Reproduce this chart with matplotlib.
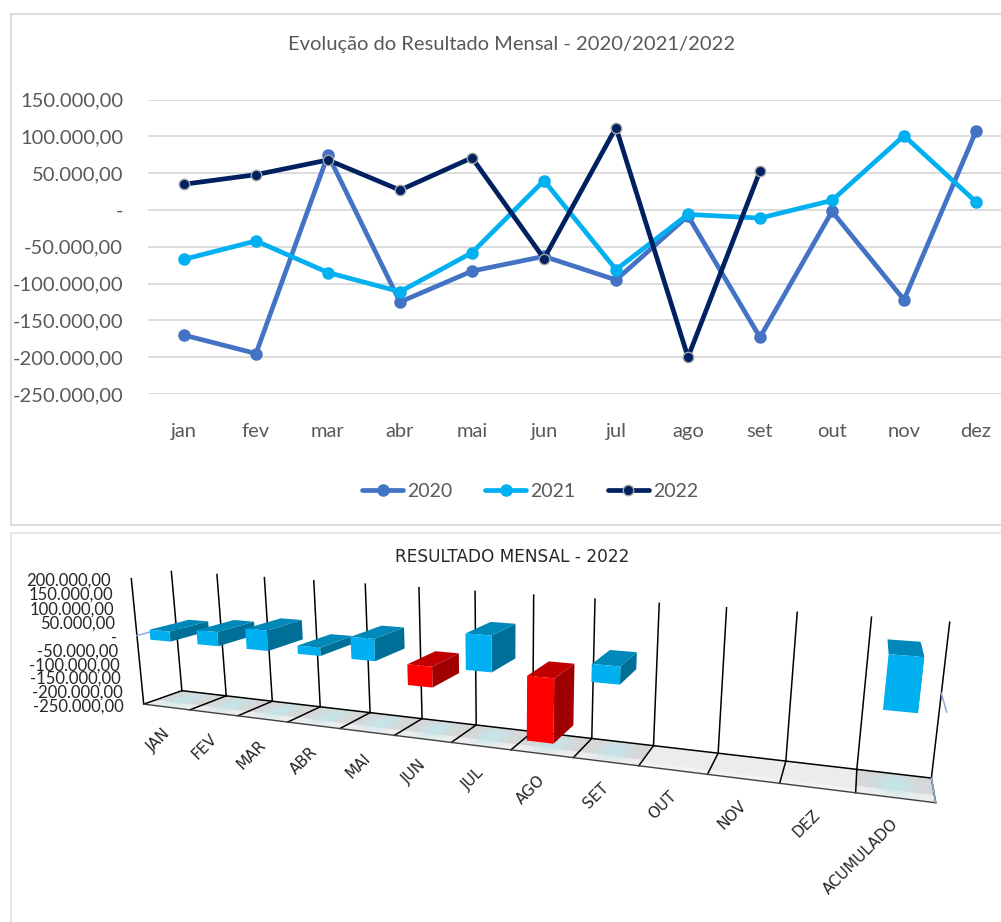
"""
Monthly result charts: 2020/2021/2022 lines and the 2022 perspective columns.
"""
import matplotlib
matplotlib.use('Agg')
import matplotlib.pyplot as plt
from matplotlib.collections import PolyCollection
from matplotlib.patches import Rectangle
import numpy as np

plt.rcParams['font.family'] = ['Lato', 'DejaVu Sans']

W, H = 1001, 922

# Data
months = ['jan', 'fev', 'mar', 'abr', 'mai', 'jun', 'jul', 'ago', 'set', 'out', 'nov', 'dez']
result_2020 = [-170000, -195000, 75000, -125000, -83000, -63000, -95000, -8000, -173000, -2000, -122000, 107000]
result_2021 = [-67000, -42000, -85000, -111000, -58000, 40000, -81000, -6000, -11000, 13000, 101000, 11000]
result_2022 = [35000, 48000, 68000, 27000, 71000, -66000, 112000, -200000, 53000]
accumulated_2022 = 148000

bar_labels = ['JAN', 'FEV', 'MAR', 'ABR', 'MAI', 'JUN', 'JUL', 'AGO', 'SET', 'OUT', 'NOV', 'DEZ', 'ACUMULADO']
top_ticks = [150000, 100000, 50000, 0, -50000, -100000, -150000, -200000, -250000]
bar_ticks = [200000, 150000, 100000, 50000, 0, -50000, -100000, -150000, -200000, -250000]


def money(v):
    if v == 0:
        return '-'
    return f'{v:,.2f}'.replace(',', '#').replace('.', ',').replace('#', '.')


fig = plt.figure(figsize=(W / 100, H / 100), dpi=100, facecolor='white')

# Full figure axes in pixels, for panel borders and the perspective chart
canvas = fig.add_axes([0, 0, 1, 1])
canvas.set_xlim(0, W)
canvas.set_ylim(H, 0)
canvas.axis('off')
canvas.add_patch(Rectangle((11, 14), 1010, 511, fc='white', ec='#d9d9d9', lw=1.3))
canvas.add_patch(Rectangle((11, 533), 1010, 420, fc='white', ec='#e4e4e4', lw=1.3))

# === LINE CHART ===
y_top, y_bottom = 99.6, 394.0
x_left = 148
ax = fig.add_axes([x_left / W, 1 - y_bottom / H, 864 / W, (y_bottom - y_top) / H])
ax.patch.set_alpha(0)
x = np.arange(12)
ax.plot(x, result_2020, color='#4472C4', lw=3.4, marker='o', ms=8, label='2020', solid_capstyle='round')
ax.plot(x, result_2021, color='#00B0F0', lw=3.4, marker='o', ms=8, label='2021', solid_capstyle='round')
ax.plot(x[:9], result_2022, color='#002060', lw=3.4, marker='o', ms=7.5, mec='#a5a5a5', mew=1,
        label='2022', solid_capstyle='round')
ax.set_xlim(-0.5, 11.5)
ax.set_ylim(-250000, 150000)
ax.set_yticks(top_ticks)
ax.set_yticklabels([money(v) for v in top_ticks])
ax.set_xticks(x)
ax.set_xticklabels(months)
ax.grid(axis='y', color='#d9d9d9', lw=1.3)
ax.set_axisbelow(True)
ax.tick_params(axis='both', length=0, labelcolor='#595959', labelsize=14.5)
ax.tick_params(axis='y', pad=18)
ax.tick_params(axis='x', pad=21)
for s in ax.spines.values():
    s.set_visible(False)
fig.text(512 / W, 1 - 44.5 / H, 'Evolução do Resultado Mensal - 2020/2021/2022', ha='center', va='center',
         fontsize=14.5, color='#595959')
fig.legend(*ax.get_legend_handles_labels(), loc='center', bbox_to_anchor=(530 / W, 1 - 491.5 / H), ncol=3,
           frameon=False, fontsize=14, labelcolor='#595959', handlelength=2.15, handletextpad=0.2,
           columnspacing=1.65)

# === PERSPECTIVE COLUMNS ===
v_min, v_max = bar_ticks[-1], bar_ticks[0]


def level(value):
    return (value - v_min) / (v_max - v_min)


# frame calibration: (category, height 0-1, depth 0-1) -> pixel
frame_3d = [(0, 0, 0), (7, 0, 0), (13, 0, 0), (0, 0, 1), (7, 0, 1), (13, 0, 1), (0, 1, 1), (7, 1, 1), (13, 1, 1), (0, 1, 0)]
frame_px = [(143.3, 704.3), (512.7, 749.3), (935, 802.3), (182.7, 689.3), (530, 735), (932.7, 776.7),
            (171.7, 571), (534.3, 595), (949.3, 622.3), (130.7, 579.3)]
rows = []
for (a, b, c), (px, py) in zip(frame_3d, frame_px):
    rows.append([a, b, c, 1, 0, 0, 0, 0, -px * a, -px * b, -px * c, -px])
    rows.append([0, 0, 0, 0, a, b, c, 1, -py * a, -py * b, -py * c, -py])
P = np.linalg.svd(np.array(rows, dtype=float))[2][-1].reshape(3, 4)


def project(u, v, w):
    q = P @ np.array([u, v, w, 1.0])
    return q[0] / q[2], q[1] / q[2]


# floor, with a pale reflection under the cells that hold a column
values = result_2022 + [None, None, None, accumulated_2022]
floor_polys, floor_cols = [], []
for i, val in enumerate(values):
    for a in np.linspace(0, 0.95, 20):
        for b in np.linspace(0, 0.9, 10):
            floor_polys.append([project(i + a, 0, b), project(i + a + 0.05, 0, b),
                                project(i + a + 0.05, 0, b + 0.1), project(i + a, 0, b + 0.1)])
            c = np.array([0.925, 0.925, 0.925])
            if b < 0.2:
                c = np.array([0.95, 0.95, 0.95])
            if val is not None:
                t = np.exp(-((a + 0.025 - 0.5) / 0.24) ** 2) * np.exp(-((b + 0.05 - 0.55) / 0.4) ** 2)
                edge = 0.84 if b > 0.2 else 0.93
                c = np.full(3, edge) * (1 - t) + np.array([0.76, 0.90, 0.92]) * t
            floor_cols.append(c)
canvas.add_collection(PolyCollection(floor_polys, facecolors=floor_cols, edgecolors='face', linewidths=0.3, zorder=2))

# back wall uprights and floor lines
for i in range(14):
    bx, by = zip(project(i, 0, 1), project(i, 1, 1))
    canvas.plot(bx, by, color='black', lw=1.1, zorder=3)
    fx, fy = zip(project(i, 0, 0), project(i, 0, 1))
    canvas.plot(fx, fy, color='black', lw=1.1, zorder=3)
ex, ey = zip(project(0, 0, 0), project(0, 1, 0))
canvas.plot(ex, ey, color='black', lw=1.1, zorder=3)
ex, ey = zip(project(0, 0, 1), project(13, 0, 1))
canvas.plot(ex, ey, color='black', lw=1.1, zorder=3)
ex, ey = zip(project(0, 0, 0), project(13, 0, 0))
canvas.plot(ex, ey, color='#404040', lw=1.0, zorder=3)

# thin blue edges
zero = level(0)
for a, b in [((0, zero, 0), (0, zero, 0.35)), ((13, zero, 1), (13, zero, 0)), ((13, 0, 1), (13, 0, 0))]:
    ex, ey = zip(project(*a), project(*b))
    canvas.plot(ex, ey, color='#8faadc', lw=1.1, zorder=3)

# columns, left to right so the later ones cover the earlier ones
bar_half = 0.21
w0, w1 = -0.2, 0.8
for i, val in enumerate(values):
    if val is None:
        continue
    centre = 0.68 + 0.98 * i
    u0, u1 = centre - bar_half, centre + bar_half
    lo, hi = sorted((level(0), level(val)))
    if val >= 0:
        front, top, side = '#00B0F0', '#0088B8', '#006F97'
    else:
        front, top, side = '#FF0000', '#C00000', '#A00000'
    faces = [
        [project(u1, lo, w0), project(u1, lo, w1), project(u1, hi, w1), project(u1, hi, w0)],
        [project(u0, hi, w0), project(u1, hi, w0), project(u1, hi, w1), project(u0, hi, w1)],
        [project(u0, lo, w0), project(u1, lo, w0), project(u1, hi, w0), project(u0, hi, w0)],
    ]
    canvas.add_collection(PolyCollection(faces, facecolors=[side, top, front], edgecolors='none',
                                         zorder=4 + i * 0.01))

# axis labels
for v in bar_ticks:
    px, py = project(0, level(v), 0)
    canvas.text(px - 20, py + 2, money(v), ha='right', va='center', fontsize=12, color='#262626', zorder=5)
for i, lab in enumerate(bar_labels):
    px, py = project(i + 0.5, 0, 0)
    canvas.text(px + 1, py + 24, lab, ha='right', va='center', rotation=45, rotation_mode='anchor',
                fontsize=11, color='#262626', family=['DejaVu Sans'], zorder=5)
canvas.text(512.5, 557, 'RESULTADO MENSAL - 2022', ha='center', va='center', fontsize=12.2,
            color='#262626', family=['DejaVu Sans'], zorder=5)

fig.savefig('out.png', dpi=100)
